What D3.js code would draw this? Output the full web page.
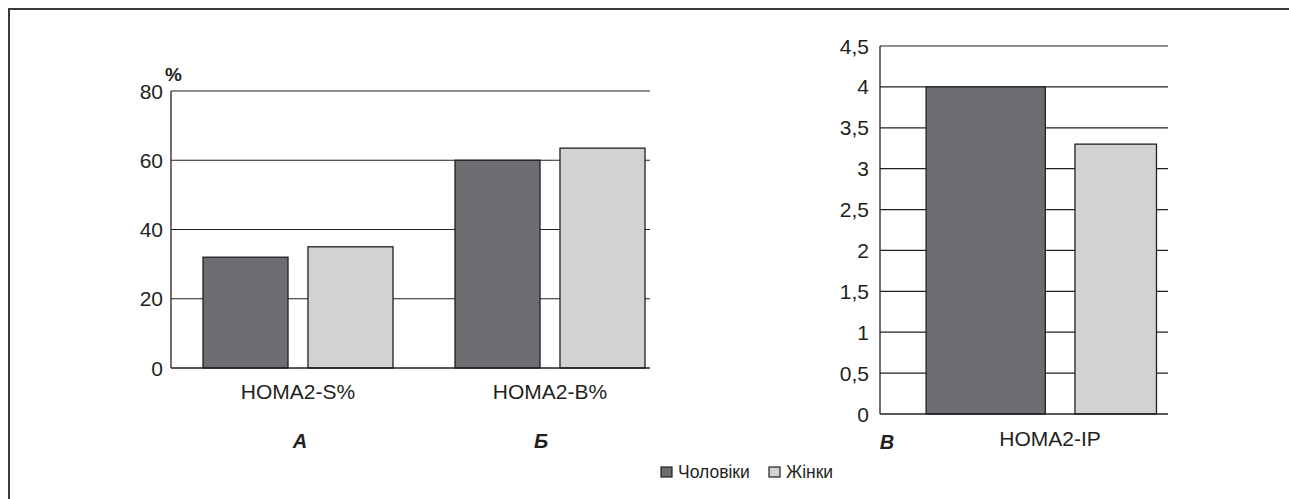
<!DOCTYPE html>
<html>
<head>
<meta charset="utf-8">
<script src="https://cdn.jsdelivr.net/npm/d3@7"></script>
<style>
  body { margin: 0; background: #fff; }
  text { font-family: "Liberation Sans", Arial, sans-serif; fill: #231f20; }
</style>
</head>
<body>
<script>

// data
var categoriesLeft = ["HOMA2-S%", "HOMA2-B%"]
var menLeft = [32, 60]
var womenLeft = [35, 63.5]
var panelLetters = ["А", "Б"]

var categoriesRight = ["HOMA2-IP"]
var menRight = [4.0]
var womenRight = [3.3]

var leftTicks = [0, 20, 40, 60, 80]
var rightTicks = [0, 0.5, 1, 1.5, 2, 2.5, 3, 3.5, 4, 4.5]
var seriesNames = ["Чоловіки", "Жінки"]
var colors = ["#6d6e71", "#d1d2d4"]

var svg = d3.select("body").append("svg")
    .attr("width", 1289)
    .attr("height", 499);

// frame (top + left)
svg.append("path")
    .attr("d", "M9,499 V9 H1289")
    .attr("fill", "none")
    .attr("stroke", "#3a3a3a")
    .attr("stroke-width", 2);

var fmt = function(d) { return String(d).replace(".", ",") }

// ---------- left chart ----------
var yL = d3.scaleLinear().domain([0, 80]).range([368, 91]);
var xL = d3.scaleBand().domain(categoriesLeft).range([203, 645]).paddingInner(0.246);
var xLSub = d3.scaleBand().domain([0, 1]).range([0, xL.bandwidth()]).paddingInner(0.19);

var gL = svg.append("g");

gL.selectAll(".gridL")
    .data(leftTicks.filter(function(d) { return d > 0 }))
    .enter().append("line")
        .attr("x1", 171).attr("x2", 650)
        .attr("y1", function(d) { return yL(d) }).attr("y2", function(d) { return yL(d) })
        .attr("stroke", "#231f20").attr("stroke-width", 1.2);

gL.selectAll(".tickL")
    .data(leftTicks)
    .enter().append("text")
        .attr("x", 163)
        .attr("y", function(d) { return yL(d) + 7.5 })
        .attr("text-anchor", "end")
        .attr("font-size", 21)
        .text(function(d) { return d });

var leftData = []
categoriesLeft.forEach(function(c, i) {
    leftData.push({cat: c, s: 0, v: menLeft[i]})
    leftData.push({cat: c, s: 1, v: womenLeft[i]})
})

gL.selectAll(".barL")
    .data(leftData)
    .enter().append("rect")
        .attr("x", function(d) { return xL(d.cat) + xLSub(d.s) })
        .attr("width", xLSub.bandwidth())
        .attr("y", function(d) { return yL(d.v) })
        .attr("height", function(d) { return yL(0) - yL(d.v) })
        .attr("fill", function(d) { return colors[d.s] })
        .attr("stroke", "#231f20").attr("stroke-width", 1.3);

gL.append("line")
    .attr("x1", 171).attr("x2", 171).attr("y1", yL(80)).attr("y2", yL(0))
    .attr("stroke", "#231f20").attr("stroke-width", 1.3);
gL.append("line")
    .attr("x1", 171).attr("x2", 650).attr("y1", yL(0)).attr("y2", yL(0))
    .attr("stroke", "#231f20").attr("stroke-width", 1.3);

gL.append("text")
    .attr("x", 165).attr("y", 81)
    .attr("font-size", 19).attr("font-weight", "bold")
    .text("%");

gL.selectAll(".catL")
    .data(categoriesLeft)
    .enter().append("text")
        .attr("x", function(d) { return xL(d) + xL.bandwidth() / 2 })
        .attr("y", 399)
        .attr("text-anchor", "middle")
        .attr("font-size", 21)
        .text(function(d) { return d });

gL.selectAll(".letterL")
    .data(panelLetters)
    .enter().append("text")
        .attr("x", function(d, i) { return xL(categoriesLeft[i]) + xL.bandwidth() / 2 + (i == 0 ? 2 : -9) })
        .attr("y", 448)
        .attr("text-anchor", "middle")
        .attr("font-size", 20).attr("font-weight", "bold").attr("font-style", "italic")
        .text(function(d) { return d });

// ---------- right chart ----------
var yR = d3.scaleLinear().domain([0, 4.5]).range([414, 46]);
var xR = d3.scaleBand().domain(categoriesRight).range([880, 1168]);

var gR = svg.append("g");

gR.selectAll(".gridR")
    .data(rightTicks.filter(function(d) { return d > 0 }))
    .enter().append("line")
        .attr("x1", 880).attr("x2", 1168)
        .attr("y1", function(d) { return yR(d) }).attr("y2", function(d) { return yR(d) })
        .attr("stroke", "#231f20").attr("stroke-width", 1.2);

gR.selectAll(".tickR")
    .data(rightTicks)
    .enter().append("text")
        .attr("x", 869)
        .attr("y", function(d) { return yR(d) + 7.5 })
        .attr("text-anchor", "end")
        .attr("font-size", 21)
        .text(fmt);

// bars: men wide, women narrower, like the picture
var rightBars = [
    {s: 0, v: menRight[0], x0: 0.16, x1: 0.574},
    {s: 1, v: womenRight[0], x0: 0.677, x1: 0.96}
]
gR.selectAll(".barR")
    .data(rightBars)
    .enter().append("rect")
        .attr("x", function(d) { return xR(categoriesRight[0]) + d.x0 * xR.bandwidth() })
        .attr("width", function(d) { return (d.x1 - d.x0) * xR.bandwidth() })
        .attr("y", function(d) { return yR(d.v) })
        .attr("height", function(d) { return yR(0) - yR(d.v) })
        .attr("fill", function(d) { return colors[d.s] })
        .attr("stroke", "#231f20").attr("stroke-width", 1.3);

gR.append("line")
    .attr("x1", 880).attr("x2", 880).attr("y1", yR(4.5)).attr("y2", yR(0))
    .attr("stroke", "#231f20").attr("stroke-width", 1.3);
gR.append("line")
    .attr("x1", 880).attr("x2", 1168).attr("y1", yR(0)).attr("y2", yR(0))
    .attr("stroke", "#231f20").attr("stroke-width", 1.3);

gR.append("text")
    .attr("x", 1050).attr("y", 446)
    .attr("text-anchor", "middle")
    .attr("font-size", 21)
    .text(categoriesRight[0]);

gR.append("text")
    .attr("x", 887).attr("y", 449)
    .attr("text-anchor", "middle")
    .attr("font-size", 20).attr("font-weight", "bold").attr("font-style", "italic")
    .text("В");

// ---------- legend ----------
var legX = [661, 769]
var leg = svg.selectAll(".leg")
    .data(seriesNames)
    .enter().append("g")
        .attr("transform", function(d, i) { return "translate(" + legX[i] + ",467)" });
leg.append("rect")
    .attr("width", 11).attr("height", 10)
    .attr("fill", function(d, i) { return colors[i] })
    .attr("stroke", "#231f20").attr("stroke-width", 1.2);
leg.append("text")
    .attr("x", 17).attr("y", 11)
    .attr("font-size", 17.5)
    .text(function(d) { return d });

</script>
</body>
</html>
